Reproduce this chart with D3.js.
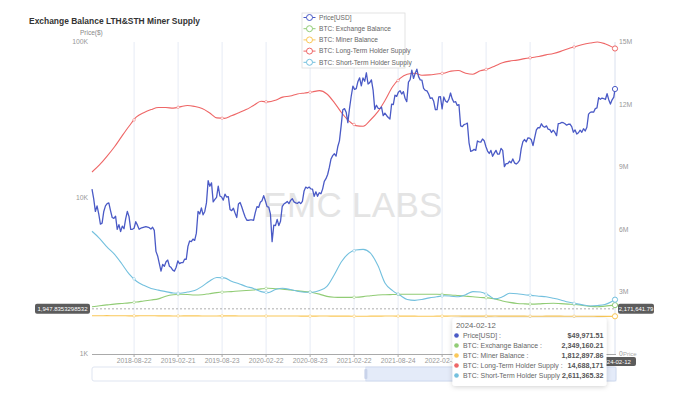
<!DOCTYPE html>
<html><head><meta charset="utf-8">
<script src="https://cdn.jsdelivr.net/npm/d3@7"></script>
<style>
html,body{margin:0;padding:0;background:#fff;}
svg{display:block;font-family:"Liberation Sans",Arial,Helvetica,sans-serif;}
</style></head>
<body><svg id="c" width="680" height="409"></svg>
<script>
// ---------------- DATA ----------------
const titleText = "Exchange Balance LTH&STH Miner Supply";
const priceData = [
["2018-02-28",11400],["2018-03-07",9900],["2018-03-14",8200],["2018-03-21",8900],["2018-03-28",7900],["2018-04-04",6800],["2018-04-11",6900],["2018-04-18",8200],["2018-04-25",8900],["2018-05-02",9200],["2018-05-09",9300],["2018-05-16",8300],["2018-05-23",7500],["2018-05-30",7400],["2018-06-06",7650],["2018-06-13",6300],["2018-06-20",6750],["2018-06-27",6100],["2018-07-04",6600],["2018-07-11",6350],["2018-07-18",7350],["2018-07-25",8200],["2018-08-01",7600],["2018-08-08",6300],["2018-08-15",6300],["2018-08-22",6400],["2018-08-29",7050],["2018-09-05",6700],["2018-09-12",6300],["2018-09-19",6400],["2018-09-26",6450],["2018-10-03",6500],["2018-10-10",6550],["2018-10-17",6500],["2018-10-24",6450],["2018-10-31",6320],["2018-11-07",6500],["2018-11-14",6200],["2018-11-21",4550],["2018-11-28",4250],["2018-12-05",3800],["2018-12-12",3400],["2018-12-19",3750],["2018-12-26",3650],
["2019-01-02",3900],["2019-01-09",4000],["2019-01-16",3650],["2019-01-23",3580],["2019-01-30",3450],["2019-02-06",3400],["2019-02-13",3600],["2019-02-20",3950],["2019-02-27",3800],["2019-03-06",3850],["2019-03-13",3850],["2019-03-20",4050],["2019-03-27",4050],["2019-04-03",4900],["2019-04-10",5300],["2019-04-17",5250],["2019-04-24",5450],["2019-05-01",5350],["2019-05-08",5950],["2019-05-15",8200],["2019-05-22",7900],["2019-05-29",8650],["2019-06-05",7800],["2019-06-12",8200],["2019-06-19",9300],["2019-06-26",12900],["2019-07-03",11900],["2019-07-10",12500],["2019-07-17",9450],["2019-07-24",9800],["2019-07-31",10100],["2019-08-07",11900],["2019-08-14",10300],["2019-08-21",10150],["2019-08-28",9700],["2019-09-04",10600],["2019-09-11",10150],["2019-09-18",10200],["2019-09-25",8450],["2019-10-02",8300],["2019-10-09",8600],["2019-10-16",8000],["2019-10-23",7500],["2019-10-30",9150],["2019-11-06",9350],["2019-11-13",8750],["2019-11-20",8100],["2019-11-27",7550],["2019-12-04",7200],["2019-12-11",7200],["2019-12-18",7250],["2019-12-25",7250],
["2020-01-01",7200],["2020-01-08",8050],["2020-01-15",8800],["2020-01-22",8700],["2020-01-29",9400],["2020-02-05",9600],["2020-02-12",10350],["2020-02-19",9600],["2020-02-26",8800],["2020-03-04",8750],["2020-03-11",7900],["2020-03-18",5250],["2020-03-25",6700],["2020-04-01",6650],["2020-04-08",7300],["2020-04-15",6650],["2020-04-22",7100],["2020-04-29",8800],["2020-05-06",9150],["2020-05-13",9300],["2020-05-20",9500],["2020-05-27",9200],["2020-06-03",9650],["2020-06-10",9900],["2020-06-17",9450],["2020-06-24",9300],["2020-07-01",9230],["2020-07-08",9430],["2020-07-15",9200],["2020-07-22",9520],["2020-07-29",11100],["2020-08-05",11750],["2020-08-12",11550],["2020-08-19",11750],["2020-08-26",11450],["2020-09-02",11400],["2020-09-09",10250],["2020-09-16",10950],["2020-09-23",10250],["2020-09-30",10800],["2020-10-07",10650],["2020-10-14",11400],["2020-10-21",12800],["2020-10-28",13300],["2020-11-04",14150],["2020-11-11",15700],["2020-11-18",17800],["2020-11-25",18700],["2020-12-02",19200],["2020-12-09",18550],["2020-12-16",21300],["2020-12-23",23250],["2020-12-30",28900],
["2021-01-06",36800],["2021-01-13",37400],["2021-01-20",35500],["2021-01-27",30400],["2021-02-03",37600],["2021-02-10",44900],["2021-02-17",52100],["2021-02-24",49700],["2021-03-03",50300],["2021-03-10",55900],["2021-03-17",58900],["2021-03-24",52300],["2021-03-31",58800],["2021-04-07",56000],["2021-04-14",63500],["2021-04-21",53800],["2021-04-28",54900],["2021-05-05",57200],["2021-05-12",49200],["2021-05-19",37000],["2021-05-26",39300],["2021-06-02",37600],["2021-06-09",37400],["2021-06-16",38300],["2021-06-23",33700],["2021-06-30",35000],["2021-07-07",33800],["2021-07-14",32800],["2021-07-21",32100],["2021-07-28",40000],["2021-08-04",39700],["2021-08-11",45600],["2021-08-18",44800],["2021-08-25",47700],["2021-09-01",48800],["2021-09-08",46400],["2021-09-15",48100],["2021-09-22",43600],["2021-09-29",41500],["2021-10-06",55300],["2021-10-13",57300],["2021-10-20",66000],["2021-10-27",58400],["2021-11-03",62900],["2021-11-10",67000],["2021-11-17",60000],["2021-11-24",57200],["2021-12-01",57000],["2021-12-08",50500],["2021-12-15",48900],["2021-12-22",48600],["2021-12-29",46400],
["2022-01-05",43500],["2022-01-12",43900],["2022-01-19",41700],["2022-01-26",36800],["2022-02-02",36900],["2022-02-09",44400],["2022-02-16",44600],["2022-02-23",37300],["2022-03-02",44400],["2022-03-09",41900],["2022-03-16",41100],["2022-03-23",42900],["2022-03-30",47100],["2022-04-06",43200],["2022-04-13",41100],["2022-04-20",41500],["2022-04-27",39200],["2022-05-04",39700],["2022-05-11",29000],["2022-05-18",28700],["2022-05-25",29500],["2022-06-01",29800],["2022-06-08",30200],["2022-06-15",22600],["2022-06-22",19900],["2022-06-29",20100],["2022-07-06",20500],["2022-07-13",20200],["2022-07-20",23200],["2022-07-27",22900],["2022-08-03",22800],["2022-08-10",23900],["2022-08-17",23300],["2022-08-24",21400],["2022-08-31",20000],["2022-09-07",19300],["2022-09-14",20200],["2022-09-21",18500],["2022-09-28",19400],["2022-10-05",20200],["2022-10-12",19100],["2022-10-19",19100],["2022-10-26",20800],["2022-11-02",20200],["2022-11-09",15900],["2022-11-16",16600],["2022-11-23",16600],["2022-11-30",17200],["2022-12-07",16800],["2022-12-14",17800],["2022-12-21",16800],["2022-12-28",16500],
["2023-01-04",16850],["2023-01-11",17400],["2023-01-18",20700],["2023-01-25",23000],["2023-02-01",23700],["2023-02-08",22900],["2023-02-15",24300],["2023-02-22",24200],["2023-03-01",23600],["2023-03-08",21700],["2023-03-15",24400],["2023-03-22",27300],["2023-03-29",28300],["2023-04-05",28200],["2023-04-12",29900],["2023-04-19",28800],["2023-04-26",28400],["2023-05-03",29000],["2023-05-10",27600],["2023-05-17",27400],["2023-05-24",26300],["2023-05-31",27200],["2023-06-07",26300],["2023-06-14",25100],["2023-06-21",30000],["2023-06-28",30100],["2023-07-05",30500],["2023-07-12",30400],["2023-07-19",29900],["2023-07-26",29300],["2023-08-02",29700],["2023-08-09",29800],["2023-08-16",28700],["2023-08-23",26400],["2023-08-30",27300],["2023-09-06",25700],["2023-09-13",26200],["2023-09-20",27200],["2023-09-27",26400],["2023-10-04",27800],["2023-10-11",26900],["2023-10-18",28400],["2023-10-25",34500],["2023-11-01",35400],["2023-11-08",35600],["2023-11-15",35500],["2023-11-22",37400],["2023-11-29",37800],["2023-12-06",44000],["2023-12-13",42900],["2023-12-20",43700],["2023-12-27",43400],
["2024-01-03",42800],["2024-01-10",46600],["2024-01-17",42700],["2024-01-24",40000],["2024-01-31",42600],["2024-02-07",44300],["2024-02-12",49971.51]
];
const supplyDates = [
"2018-02-28","2018-04-01","2018-05-01","2018-06-01","2018-07-01","2018-08-01","2018-09-01","2018-10-01","2018-11-01","2018-12-01",
"2019-01-01","2019-02-01","2019-03-01","2019-04-01","2019-05-01","2019-06-01","2019-07-01","2019-08-01","2019-09-01","2019-10-01","2019-11-01","2019-12-01",
"2020-01-01","2020-02-01","2020-03-01","2020-04-01","2020-05-01","2020-06-01","2020-07-01","2020-08-01","2020-09-01","2020-10-01","2020-11-01","2020-12-01",
"2021-01-01","2021-02-01","2021-03-01","2021-04-01","2021-05-01","2021-06-01","2021-07-01","2021-08-01","2021-09-01","2021-10-01","2021-11-01","2021-12-01",
"2022-01-01","2022-02-01","2022-03-01","2022-04-01","2022-05-01","2022-06-01","2022-07-01","2022-08-01","2022-09-01","2022-10-01","2022-11-01","2022-12-01",
"2023-01-01","2023-02-01","2023-03-01","2023-04-01","2023-05-01","2023-06-01","2023-07-01","2023-08-01","2023-09-01","2023-10-01","2023-11-01","2023-12-01",
"2024-01-01","2024-02-12"];
// supply series, in millions of BTC
const exchangeBalance = [2.27,2.32,2.36,2.4,2.43,2.46,2.5,2.55,2.6,2.65,
2.78,2.85,2.87,2.86,2.84,2.85,2.9,2.95,2.98,3.0,3.03,3.05,
3.08,3.13,3.16,3.14,3.12,3.08,3.04,3.0,2.96,2.88,2.77,2.73,
2.72,2.72,2.73,2.76,2.8,2.84,2.85,2.86,2.87,2.87,2.87,2.87,
2.87,2.87,2.86,2.84,2.81,2.78,2.75,2.72,2.7,2.65,2.55,2.48,
2.43,2.41,2.4,2.41,2.43,2.44,2.42,2.4,2.38,2.33,2.29,2.27,
2.3,2.34916021];
const minerBalance = [1.84,1.84,1.845,1.84,1.84,1.835,1.835,1.84,1.84,1.835,
1.835,1.83,1.83,1.835,1.835,1.83,1.83,1.83,1.835,1.835,1.83,1.83,
1.83,1.825,1.825,1.83,1.83,1.825,1.825,1.82,1.82,1.825,1.825,1.82,
1.82,1.82,1.815,1.815,1.82,1.82,1.825,1.825,1.82,1.82,1.82,1.815,
1.815,1.82,1.82,1.825,1.825,1.82,1.82,1.82,1.82,1.825,1.82,1.82,
1.82,1.82,1.815,1.815,1.82,1.82,1.82,1.815,1.815,1.815,1.815,1.81,
1.81,1.81289786];
const lthSupply = [8.75,9.1,9.5,9.95,10.45,10.95,11.4,11.6,11.75,11.85,
11.85,11.82,11.88,11.95,11.9,11.8,11.6,11.35,11.33,11.45,11.6,11.75,
11.95,12.15,12.12,12.2,12.35,12.4,12.5,12.55,12.6,12.66,12.5,12.1,
11.6,11.2,10.98,10.95,11.25,11.65,12.2,12.85,13.25,13.45,13.5,13.4,
13.42,13.46,13.5,13.6,13.63,13.5,13.45,13.62,13.7,13.85,14.0,14.08,
14.13,14.2,14.25,14.3,14.38,14.45,14.55,14.68,14.78,14.88,14.95,15.0,
14.92,14.688171];
const sthSupply = [5.9,5.55,5.15,4.8,4.35,3.85,3.5,3.3,3.15,3.07,
3.0,2.93,2.92,2.98,3.05,3.25,3.5,3.68,3.66,3.5,3.38,3.25,
3.15,3.0,2.95,3.1,3.16,3.1,3.02,2.97,2.97,3.05,3.25,3.8,
4.45,4.85,5.0,5.03,4.85,4.25,3.4,3.05,2.82,2.62,2.58,2.62,
2.7,2.75,2.8,2.78,2.75,2.85,3.0,2.98,2.85,2.65,2.75,2.92,
2.9,2.85,2.82,2.78,2.75,2.68,2.6,2.5,2.42,2.36,2.31,2.33,
2.38,2.61136532];
// x gridline dates (every label interval) and the labels left visible (the rest sit under the tooltip)
const xTickDates = ["2018-08-22","2019-02-21","2019-08-23","2020-02-22","2020-08-23","2021-02-22","2021-08-24","2022-02-23","2022-08-25","2023-02-24","2023-08-26"];
const xTickLabels = ["2018-08-22","2019-02-21","2019-08-23","2020-02-22","2020-08-23","2021-02-22","2021-08-24","2022-02-23"];
const priceTicks = [1000,10000,100000];
const priceTickLabels = ["1K","10K","100K"];
const supplyTicks = [0,3e6,6e6,9e6,12e6,15e6];
const supplyTickLabels = ["0","3M","6M","9M","12M","15M"];
const seriesNames = ["Price[USD]","BTC: Exchange Balance","BTC: Miner Balance","BTC: Long-Term Holder Supply","BTC: Short-Term Holder Supply"];
const seriesColors = ["#4a5ac6","#91cc75","#fac858","#ee6666","#73c0de"];
const tooltipDate = "2024-02-12";
const tooltipLabels = ["Price[USD] :","BTC: Exchange Balance :","BTC: Miner Balance :","BTC: Long-Term Holder Supply :","BTC: Short-Term Holder Supply :"];
const tooltipValues = ["$49,971.51","2,349,160.21","1,812,897.86","14,688,171","2,611,365.32"];
const pointerPriceValue = 1947.8353298532;
const pointerPriceLabel = "1,947.8353298532";
const pointerSupplyLabel = "2,171,641.79";
const zoomWindow = ["2021-04-12","2024-02-12"];

// ---------------- CHART ----------------
const svg = d3.select("#c");
const parse = d3.timeParse("%Y-%m-%d");
const L = 92, R = 615, T = 42, B = 354;
const x = d3.scaleTime().domain([parse("2018-02-28"), parse("2024-02-12")]).range([L, R]);
const yP = d3.scaleLog().domain([1000, 100000]).range([B, T]);
const yS = d3.scaleLinear().domain([0, 15e6]).range([B, T]);

const defs = svg.append("defs");
const f = defs.append("filter").attr("id","sh").attr("x","-20%").attr("y","-20%").attr("width","140%").attr("height","140%");
f.append("feDropShadow").attr("dx",0).attr("dy",1).attr("stdDeviation",2.5).attr("flood-color","#000").attr("flood-opacity",0.18);

// title
svg.append("text").attr("x",29).attr("y",23.5).attr("font-size",9.6).attr("font-weight","bold").attr("fill","#333")
  .attr("textLength",171).attr("lengthAdjust","spacingAndGlyphs").text(titleText);
svg.append("text").attr("x",80).attr("y",34.5).attr("font-size",6.5).attr("fill","#888").text("Price($)");

// vertical grid
const tickDates = xTickDates.map(parse);
svg.append("g").selectAll("line").data(tickDates).join("line")
  .attr("x1",d=>x(d)).attr("x2",d=>x(d)).attr("y1",T).attr("y2",B)
  .attr("stroke","#e6ebf5").attr("stroke-width",1);

// watermark
svg.append("text").attr("x",353).attr("y",217).attr("text-anchor","middle")
  .attr("font-size",35).attr("fill","#e4e4e4").attr("letter-spacing",0.3).text("EMC LABS");

// axes
svg.append("line").attr("x1",L).attr("x2",R+1).attr("y1",B+0.5).attr("y2",B+0.5).attr("stroke","#aaa");
svg.append("g").selectAll("line").data(tickDates).join("line")
  .attr("x1",d=>x(d)).attr("x2",d=>x(d)).attr("y1",B).attr("y2",B+3).attr("stroke","#aaa");
svg.append("g").selectAll("text").data(xTickLabels).join("text")
  .attr("x",d=>x(parse(d))).attr("y",361).attr("dy","0.35em").attr("text-anchor","middle")
  .attr("font-size",6.8).attr("fill","#999").text(d=>d);
svg.append("g").selectAll("text").data(priceTicks).join("text")
  .attr("x",88).attr("y",d=>yP(d)).attr("dy","0.35em").attr("text-anchor","end")
  .attr("font-size",6.8).attr("fill","#999").text((d,i)=>priceTickLabels[i]);
svg.append("g").selectAll("text").data(supplyTicks).join("text")
  .attr("x",619).attr("y",d=>yS(d)).attr("dy","0.35em").attr("text-anchor","start")
  .attr("font-size",6.8).attr("fill","#999").text((d,i)=>supplyTickLabels[i]);
svg.append("text").attr("x",623).attr("y",yS(0)).attr("dy","0.35em").attr("font-size",6).attr("fill","#aaa").text("Price");

// axis pointer (vertical)
const lastDate = parse(tooltipDate);
svg.append("line").attr("x1",x(lastDate)).attr("x2",x(lastDate)).attr("y1",T).attr("y2",B)
  .attr("stroke","#d9e0ee").attr("stroke-width",1);

// supply series
const sDates = supplyDates.map(parse);
const supplySeries = [exchangeBalance, minerBalance, lthSupply, sthSupply];
const lineS = d3.line().x(d=>x(d[0])).y(d=>yS(d[1]*1e6)).curve(d3.curveMonotoneX);
supplySeries.forEach((arr,i)=>{
  const pts = arr.map((v,j)=>[sDates[j],v]);
  svg.append("path").attr("d",lineS(pts)).attr("fill","none")
    .attr("stroke",seriesColors[i+1]).attr("stroke-width",1.1);
});
// price
const pData = priceData.map(d=>[parse(d[0]),d[1]]);
const lineP = d3.line().x(d=>x(d[0])).y(d=>yP(d[1]));
svg.append("path").attr("d",lineP(pData)).attr("fill","none")
  .attr("stroke",seriesColors[0]).attr("stroke-width",1.3).attr("stroke-linejoin","round");

// small symbols at tick dates on supply series
const bis = d3.bisector(d=>d).left;
function interp(arr, dt){
  let j = bis(sDates, dt); if (j<=0) return arr[0]; if (j>=sDates.length) return arr[arr.length-1];
  const t = (dt - sDates[j-1])/(sDates[j]-sDates[j-1]);
  return arr[j-1] + t*(arr[j]-arr[j-1]);
}
supplySeries.forEach((arr,i)=>{
  svg.append("g").selectAll("circle").data(tickDates).join("circle")
    .attr("cx",d=>x(d)).attr("cy",d=>yS(interp(arr,d)*1e6)).attr("r",1.3)
    .attr("fill","#fff").attr("stroke",seriesColors[i+1]).attr("stroke-width",0.6).attr("stroke-opacity",0.8);
});

// horizontal pointer line
const py = yP(pointerPriceValue);
svg.append("line").attr("x1",L).attr("x2",R).attr("y1",py).attr("y2",py)
  .attr("stroke","#999").attr("stroke-dasharray","2,2").attr("stroke-width",0.8);

// hover markers at last point
const lastVals = [yP(pData[pData.length-1][1])].concat(supplySeries.map(a=>yS(a[a.length-1]*1e6)));
lastVals.forEach((cy,i)=>{
  svg.append("circle").attr("cx",x(lastDate)).attr("cy",cy).attr("r",2.6)
    .attr("fill","#fff").attr("stroke",seriesColors[i]).attr("stroke-width",1);
});

// pointer labels
function pLabel(cx, cy, w, h, txt, fs){
  const g = svg.append("g");
  g.append("rect").attr("x",cx).attr("y",cy).attr("width",w).attr("height",h).attr("rx",2).attr("fill","#5c5c5c");
  g.append("text").attr("x",cx+w/2).attr("y",cy+h/2).attr("dy","0.35em").attr("text-anchor","middle")
    .attr("font-size",fs).attr("fill","#fff").text(txt);
}
pLabel(35, py-5, 55, 10, pointerPriceLabel, 6.0);
pLabel(618, py-5, 36, 10, pointerSupplyLabel, 5.9);

// dataZoom slider
const zx0 = x(parse(zoomWindow[0])), zx1 = x(parse(zoomWindow[1]));
svg.append("rect").attr("x",L).attr("y",367).attr("width",R-L+1).attr("height",14).attr("rx",2)
  .attr("fill","#fff").attr("stroke","#dfe5f1");
svg.append("rect").attr("x",zx0).attr("y",367).attr("width",zx1-zx0+1).attr("height",14)
  .attr("fill","#dde6f7").attr("fill-opacity",0.8).attr("stroke","#c6d2ec").attr("stroke-width",0.6);
svg.append("rect").attr("x",zx0-1.5).attr("y",369).attr("width",3).attr("height",10).attr("rx",1).attr("fill","#c9d3ea");
pLabel(595, 357, 41, 9, tooltipDate, 6.0);

// legend
const lg = svg.append("g");
lg.append("rect").attr("x",302).attr("y",13).attr("width",103).attr("height",55)
  .attr("fill","#fff").attr("stroke","#ddd").attr("stroke-width",0.8);
seriesNames.forEach((n,i)=>{
  const yy = 17.5 + i*11.2;
  lg.append("line").attr("x1",303.5).attr("x2",315.5).attr("y1",yy).attr("y2",yy).attr("stroke",seriesColors[i]).attr("stroke-width",1);
  lg.append("circle").attr("cx",309.5).attr("cy",yy).attr("r",3).attr("fill","#fff").attr("stroke",seriesColors[i]).attr("stroke-width",1);
  lg.append("text").attr("x",319).attr("y",yy).attr("dy","0.35em").attr("font-size",6.6).attr("fill","#666").text(n);
});

// tooltip
const tg = svg.append("g");
tg.append("rect").attr("x",452.5).attr("y",318).attr("width",154).attr("height",68).attr("rx",3)
  .attr("fill","#fff").attr("filter","url(#sh)");
tg.append("text").attr("x",456).attr("y",325.5).attr("dy","0.35em").attr("font-size",7.8).attr("fill","#666").text(tooltipDate);
tooltipLabels.forEach((l,i)=>{
  const yy = 335.5 + i*10;
  tg.append("circle").attr("cx",456.5).attr("cy",yy).attr("r",2.3).attr("fill",seriesColors[i]);
  tg.append("text").attr("x",463).attr("y",yy).attr("dy","0.35em").attr("font-size",6.9).attr("fill","#666").text(l);
  tg.append("text").attr("x",603.5).attr("y",yy).attr("dy","0.35em").attr("text-anchor","end")
    .attr("font-size",7.2).attr("font-weight","bold").attr("fill","#555").text(tooltipValues[i]);
});
</script></body></html>
